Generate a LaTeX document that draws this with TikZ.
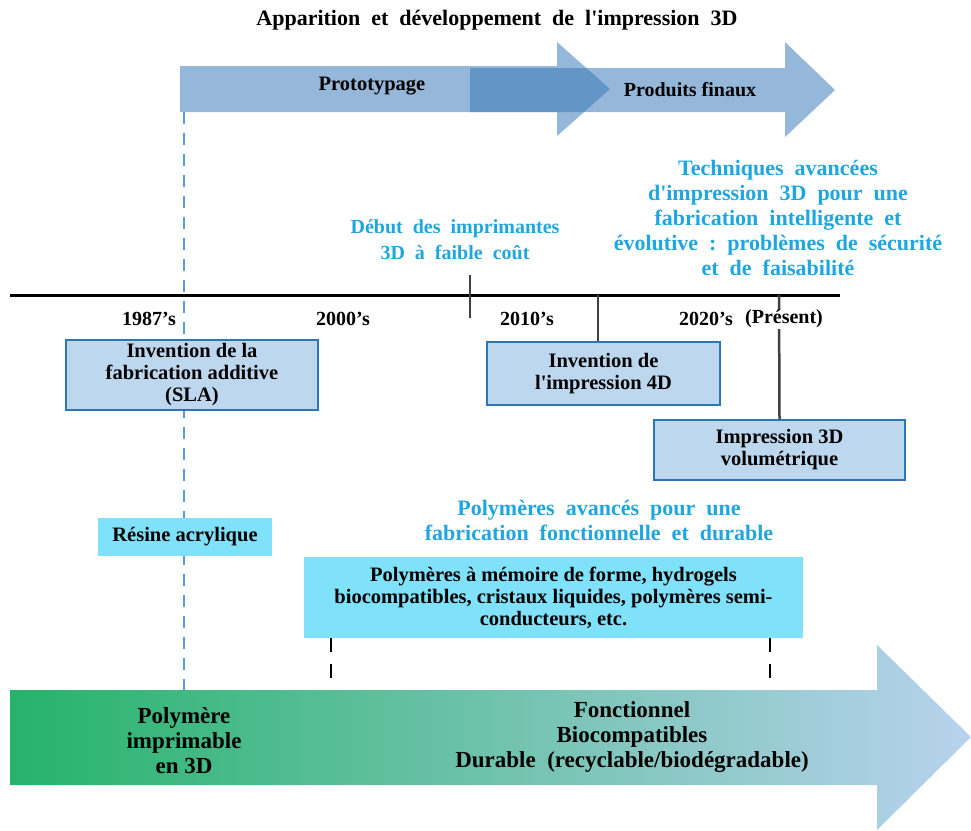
\documentclass[tikz,border=0pt]{standalone}
\usepackage{fontspec}
\setmainfont{Liberation Serif}
\definecolor{arrowblue}{RGB}{55,119,183}
\definecolor{boxfill}{RGB}{189,215,238}
\definecolor{boxedge}{RGB}{46,117,182}
\definecolor{cyanfill}{RGB}{128,225,250}
\definecolor{cyantext}{RGB}{30,166,224}
\definecolor{dashblue}{RGB}{91,155,213}
\definecolor{greenA}{RGB}{38,179,106}
\definecolor{greenB}{RGB}{110,196,175}
\definecolor{lightblueB}{RGB}{184,210,238}
\newcommand{\sq}{\textquotesingle}
\begin{document}
\begin{tikzpicture}[x=1pt,y=-1pt,
  toparrow/.style={fill=arrowblue,fill opacity=0.53,draw=none},
  eventbox/.style={draw=boxedge,line width=2.5pt,fill=boxfill,align=center,inner sep=0pt,
    font=\bfseries\fontsize{20.5}{22}\selectfont},
  cyanbox/.style={fill=cyanfill,draw=none,align=center,inner sep=0pt},
  cyanlabel/.style={text=cyantext,align=center,font=\bfseries\fontsize{22}{25}\selectfont},
  yearlabel/.style={font=\bfseries\fontsize{20}{22}\selectfont,inner sep=1pt},
  bluedash/.style={draw=dashblue,line width=2.5pt,dash pattern=on 12pt off 9pt},
  blackdash/.style={draw=black,line width=2.5pt,dash pattern=on 14pt off 12pt},
  tickline/.style={draw=black!75,line width=2.5pt},
  arrowtext/.style={align=center,font=\bfseries\fontsize{23}{25}\selectfont}
]
\useasboundingbox (0,0) rectangle (971,830);

% title
\node[font=\bfseries\fontsize{22}{24}\selectfont] (title) at (497,20) {Apparition\ \ et\ \ développement\ \ de\ \ l\sq impression\ \ 3D};

% top arrows
\path[toparrow] (180,66) -- (557,66) -- (557,42) -- (610,89) -- (557,136) -- (557,112) -- (180,112) -- cycle;
\path[toparrow] (470,68) -- (785,68) -- (785,42) -- (835,90) -- (785,137) -- (785,112) -- (470,112) -- cycle;
\node[font=\bfseries\fontsize{20.5}{22}\selectfont] (proto) at (372,86) {Prototypage};
\node[font=\bfseries\fontsize{20}{22}\selectfont] (prod) at (690,90) {Produits finaux};

% blue dashed vertical
\coordinate (dtop) at (184,112);
\coordinate (dbot) at (184,690);
\draw[bluedash] (dtop) -- (dbot);

% bottom arrow
\shade[left color=greenA,middle color=greenB,right color=lightblueB]
  (10,690) -- (877,690) -- (877,645) -- (971,737) -- (877,830) -- (877,785) -- (10,785) -- cycle;

% timeline
\coordinate (tl0) at (10,295);
\coordinate (tl1) at (840,295);
\draw[line width=3pt] (tl0) -- (tl1);
\coordinate (t1a) at (470,275);
\coordinate (t1b) at (470,318);
\draw[tickline] (t1a) -- (t1b);

% year labels
\node[yearlabel] (y1987) at (149,319) {1987’s};
\node[yearlabel] (y2000) at (343,319) {2000’s};
\node[yearlabel] (y2010) at (527,319) {2010’s};
\node[yearlabel] (y2020) at (706,319) {2020’s};

% event boxes
\node[eventbox,minimum width=252,minimum height=70] (sla) at (192,375)
  {Invention de la\\fabrication additive\\(SLA)};
\node[eventbox,minimum width=233,minimum height=63] (fourd) at (603.5,373.5)
  {Invention de\\l\sq impression 4D};
\node[eventbox,minimum width=251,minimum height=60] (vol) at (779.5,450)
  {Impression 3D\\volumétrique};

\coordinate (t2) at (598,295);
\draw[tickline] (t2) -- (t2 |- fourd.north);
\coordinate (t3) at (779,295);
\draw[tickline] (t3) -- (vol.north);
\node[yearlabel,fill=white] (pres) at (784,319) {(Présent)};

% cyan labels
\node[cyanlabel,font=\bfseries\fontsize{20}{26}\selectfont] (debut) at (455,240) {Début\ \ des\ \ imprimantes\\3D\ \ à\ \ faible\ \ coût};
\node[cyanlabel] (tech) at (778,218) {Techniques\ \ avancées\\d\sq impression\ \ 3D\ \ pour\ \ une\\fabrication\ \ intelligente\ \ et\\évolutive\ \ :\ \ problèmes\ \ de\ \ sécurité\\et\ \ de\ \ faisabilité};
\node[cyanlabel] (polyav) at (599,520) {Polymères\ \ avancés\ \ pour\ \ une\\fabrication\ \ fonctionnelle\ \ et\ \ durable};

% cyan boxes
\node[cyanbox,minimum width=174,minimum height=38,font=\bfseries\fontsize{20.5}{22}\selectfont] (resine) at (185,537) {Résine acrylique};
\node[cyanbox,minimum width=499,minimum height=81,font=\bfseries\fontsize{20.5}{22}\selectfont] (polybox) at (553.5,597.5)
  {Polymères à mémoire de forme, hydrogels\\biocompatibles, cristaux liquides, polymères semi-\\conducteurs, etc.};

% black dashed
\coordinate (bd1) at (331,690);
\coordinate (bd2) at (770,690);
\draw[blackdash] (polybox.south -| bd1) -- (bd1);
\draw[blackdash] (polybox.south -| bd2) -- (bd2);

% bottom arrow texts
\node[arrowtext] (poly3d) at (184,741) {Polymère\\imprimable\\en 3D};
\node[arrowtext] (fonct) at (632,737) {Fonctionnel\\Biocompatibles\\Durable\ \ (recyclable/biodégradable)};
\end{tikzpicture}
\end{document}
